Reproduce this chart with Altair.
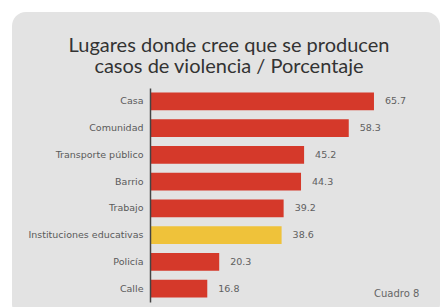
import altair as alt
import pandas as pd

title_line1 = "Lugares donde cree que se producen"
title_line2 = "casos de violencia / Porcentaje"
categories = ["Casa", "Comunidad", "Transporte público", "Barrio", "Trabajo",
              "Instituciones educativas", "Policía", "Calle"]
values = [65.7, 58.3, 45.2, 44.3, 39.2, 38.6, 20.3, 16.8]
highlight = ["no", "no", "no", "no", "no", "si", "no", "no"]
value_labels = ["65.7", "58.3", "45.2", "44.3", "39.2", "38.6", "20.3", "16.8"]
note_text = "Cuadro 8"

df = pd.DataFrame({"lugar": categories, "valor": values, "hl": highlight, "lab": value_labels})

FONT = "Lato"
SMALL = "DejaVu Sans"

y_enc = alt.Y("lugar:N", sort=categories, title=None,
              scale=alt.Scale(paddingInner=0.33, paddingOuter=0.165),
              axis=alt.Axis(ticks=False, labelPadding=7, labelFontSize=9.5, labelColor="#5a5a5a",
                            labelFont=SMALL, domainColor="#444444", domainWidth=1.5,
                            labelLimit=200, zindex=1))
x_enc = alt.X("valor:Q", title=None, scale=alt.Scale(domain=[0, 79.2], nice=False), axis=None)

one = pd.DataFrame({"a": [0]})

panel = alt.Chart(one).mark_rect(
    cornerRadius=14, color="#e3e3e3"
).encode(x=alt.value(-138), x2=alt.value(290), y=alt.value(-76), y2=alt.value(230))

title_style = dict(align="center", baseline="alphabetic", fontSize=20, font=FONT, color="#333333")
title1 = alt.Chart(one).mark_text(**title_style).encode(
    x=alt.value(79), y=alt.value(-36), text=alt.value(title_line1))
title2 = alt.Chart(one).mark_text(**title_style).encode(
    x=alt.value(79), y=alt.value(-15), text=alt.value(title_line2))

bars = alt.Chart(df).mark_bar().encode(
    x=x_enc, y=y_enc,
    color=alt.Color("hl:N", scale=alt.Scale(domain=["no", "si"], range=["#d5392a", "#efc23a"]), legend=None),
)

labels = alt.Chart(df).mark_text(align="left", baseline="middle", dx=11, fontSize=9.5,
                                 color="#606060", font=SMALL).encode(
    x=x_enc, y=y_enc, text="lab:N"
)

note = alt.Chart(one).mark_text(
    align="left", baseline="middle", fontSize=10, color="#666666", font=SMALL
).encode(x=alt.value(224), y=alt.value(206), text=alt.value(note_text))

chart = alt.layer(panel, title1, title2, bars, labels, note).properties(
    width=270, height=214,
    padding={"left": 142, "top": 80, "right": 20, "bottom": 5},
    autosize=alt.AutoSizeParams(type="none"),
    background="white",
).configure_view(stroke=None)

chart.save("out.html", embed_options={"renderer": "svg", "actions": False})
